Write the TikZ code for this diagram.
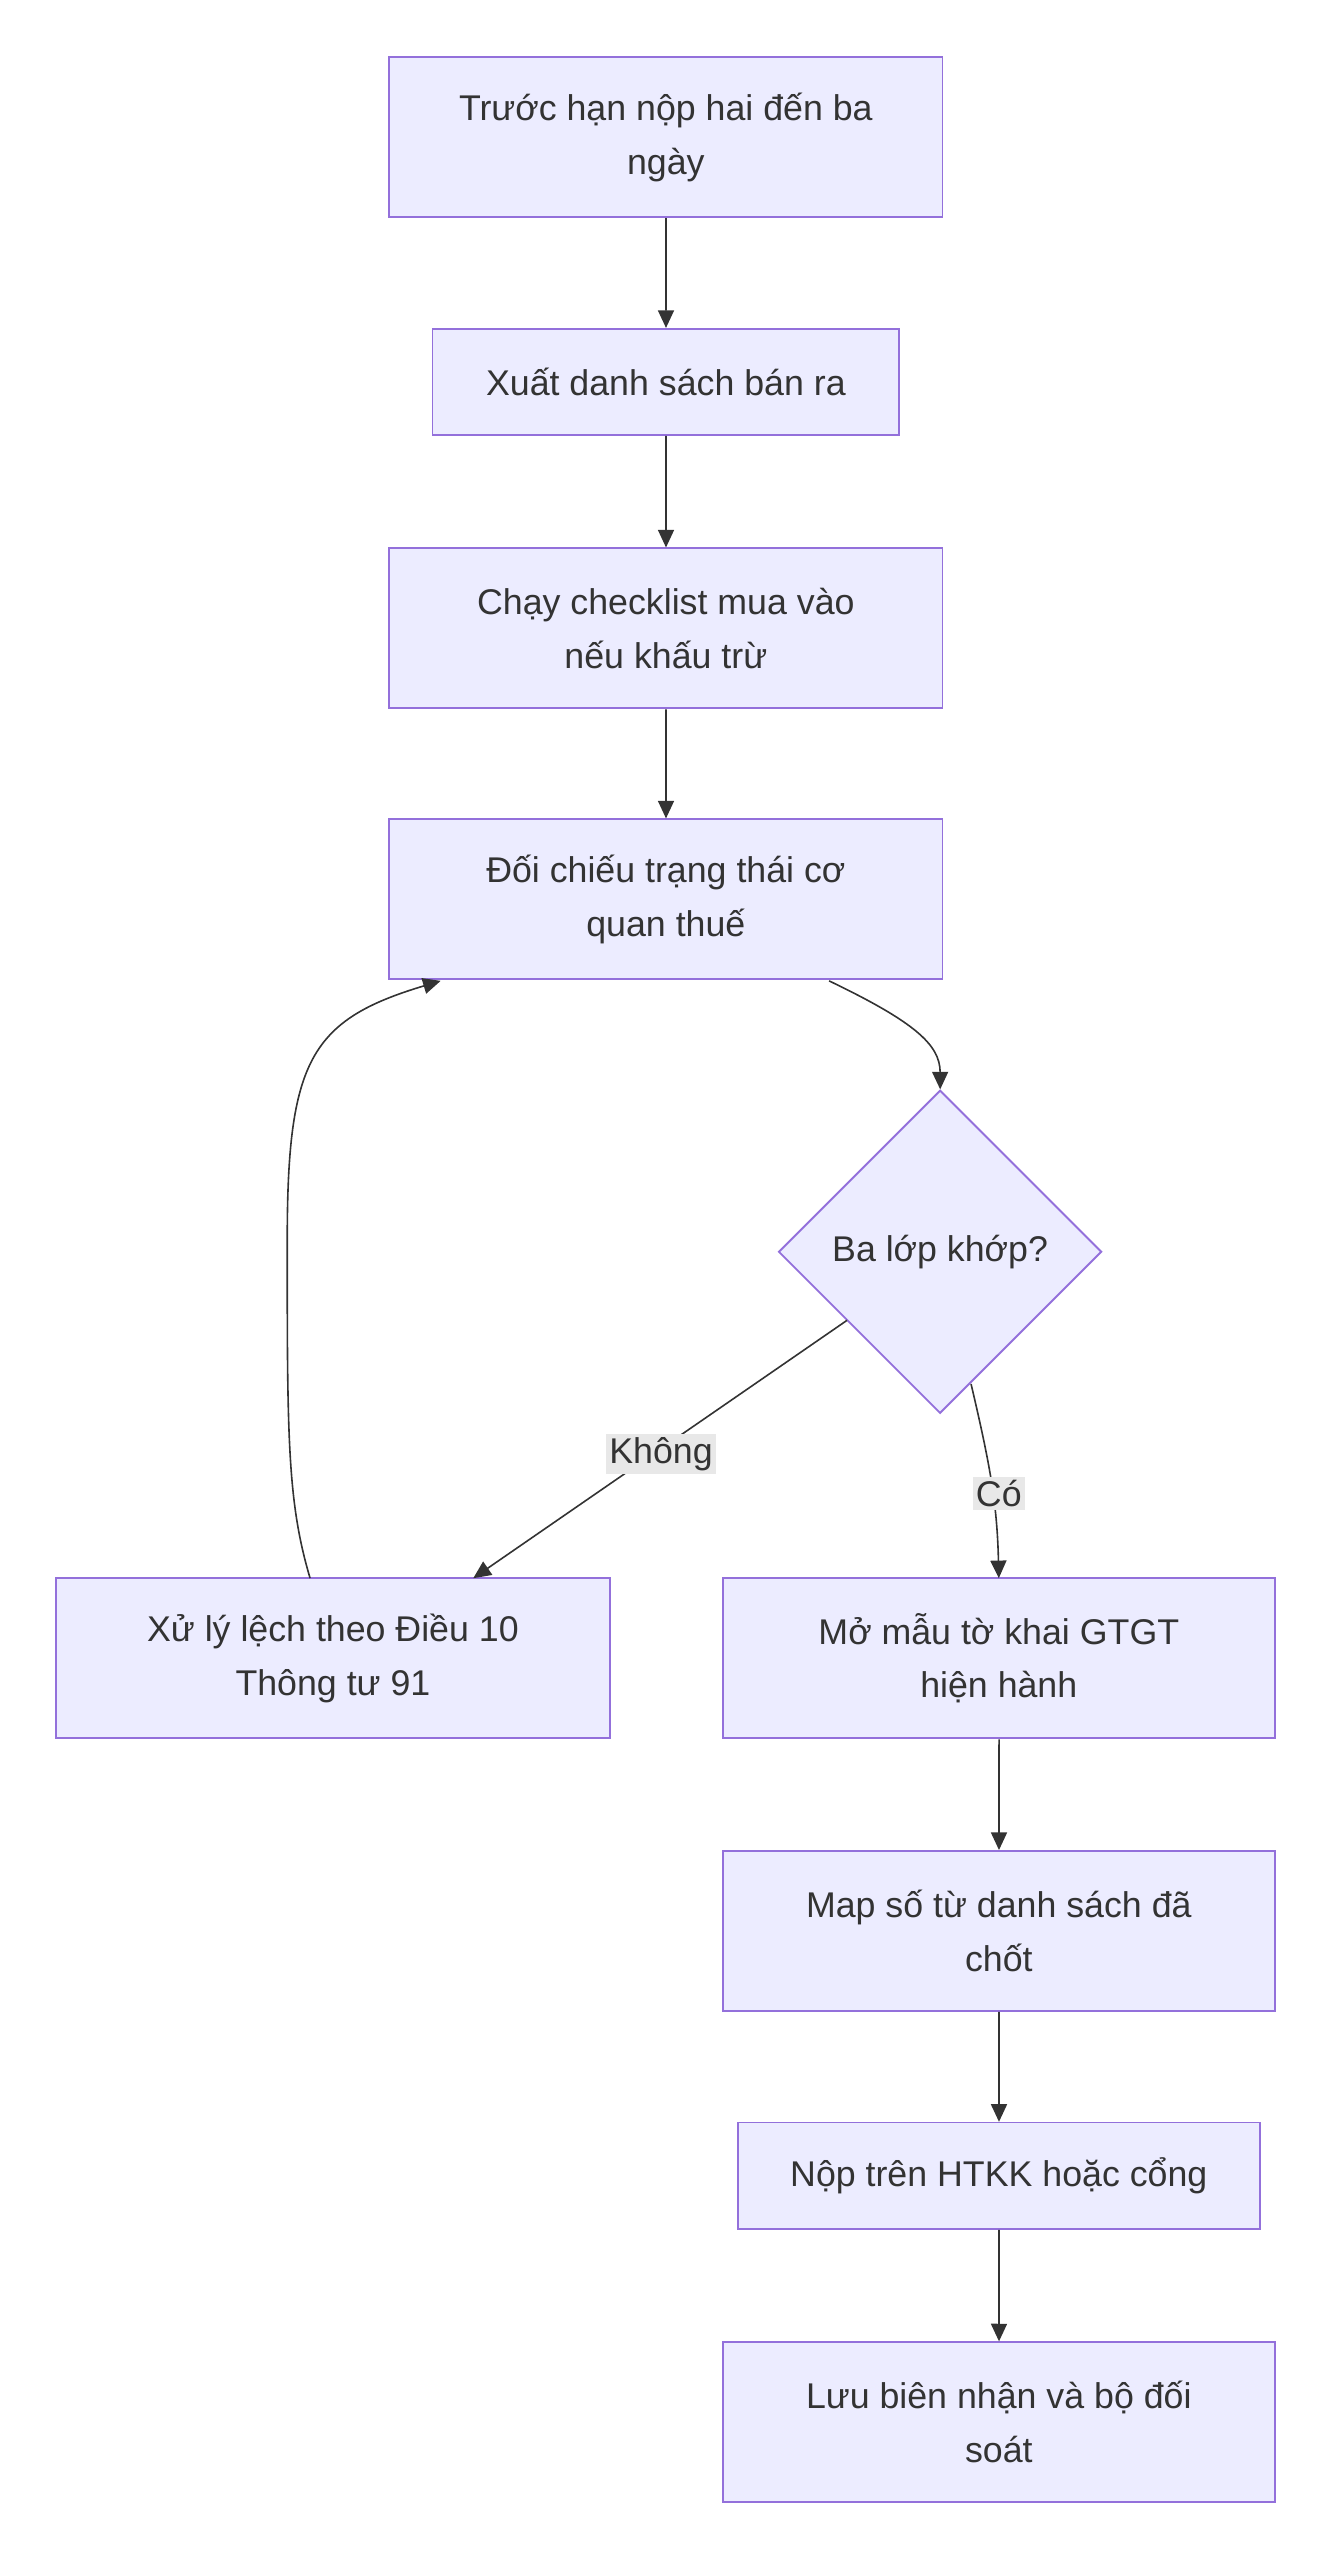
\documentclass[tikz,border=0pt]{standalone}
\usepackage{fontspec}
\setmainfont{Liberation Sans}
\usetikzlibrary{shapes.geometric,arrows.meta}
\definecolor{nfill}{HTML}{ECECFF}
\definecolor{nline}{HTML}{9370DB}
\definecolor{txt}{HTML}{333333}
\definecolor{lbg}{HTML}{E8E8E8}
\begin{document}
\begin{tikzpicture}[x=1pt,y=-1pt,scale=1.02,every node/.append style={transform shape},
  box/.style={draw=nline,fill=nfill,line width=1.2pt,text=txt,font=\fontsize{21.9}{33}\selectfont,align=center,inner sep=0pt},
  dia/.style={diamond,draw=nline,fill=nfill,line width=1.2pt,text=txt,font=\fontsize{21.9}{33}\selectfont,minimum width=198pt,minimum height=198pt,inner sep=0pt},
  arr/.style={draw=txt,line width=1pt,-{Triangle[length=11pt,width=10pt]}},
  lbl/.style={fill=lbg,text=txt,font=\fontsize{21.9}{26}\selectfont,inner sep=2pt}]
\useasboundingbox (0,0) rectangle (816.7,1568.6);
\node[box,minimum width=339pt,minimum height=98pt] (n1) at (408,84) {Trước hạn nộp hai đến ba\\ngày};
\node[box,minimum width=286pt,minimum height=65pt] (n2) at (408,234) {Xuất danh sách bán ra};
\node[box,minimum width=339pt,minimum height=98pt] (n3) at (408,385) {Chạy checklist mua vào\\nếu khấu trừ};
\node[box,minimum width=339pt,minimum height=98pt] (n4) at (408,551) {Đối chiếu trạng thái cơ\\quan thuế};
\node[dia] (d) at (576,767) {Ba lớp khớp?};
\node[box,minimum width=339pt,minimum height=98pt] (n5) at (204,1016) {Xử lý lệch theo Điều 10\\Thông tư 91};
\node[box,minimum width=338pt,minimum height=98pt] (n6) at (612,1016) {Mở mẫu tờ khai GTGT\\hiện hành};
\node[box,minimum width=338pt,minimum height=98pt] (n7) at (612,1183) {Map số từ danh sách đã\\chốt};
\node[box,minimum width=320pt,minimum height=65pt] (n8) at (612,1333) {Nộp trên HTKK hoặc cổng};
\node[box,minimum width=338pt,minimum height=98pt] (n9) at (612,1484) {Lưu biên nhận và bộ đối\\soát};
\draw[arr] (n1) -- (n2);
\draw[arr] (n2) -- (n3);
\draw[arr] (n3) -- (n4);
\draw[arr] (508,601) .. controls (560,626) and (576,640) .. (d.north);
\draw[arr] (519,809) -- (290,967);
\node[lbl] at (405,891) {Không};
\draw[arr] (595,848) .. controls (606,895) and (611,920) .. (612,967);
\node[lbl] at (612,915) {Có};
\draw[arr] (190,967) .. controls (176,920) and (176,880) .. (176,760) .. controls (176,650) and (190,625) .. (270,601);
\draw[arr] (n6) -- (n7);
\draw[arr] (n7) -- (n8);
\draw[arr] (n8) -- (n9);
\end{tikzpicture}
\end{document}
